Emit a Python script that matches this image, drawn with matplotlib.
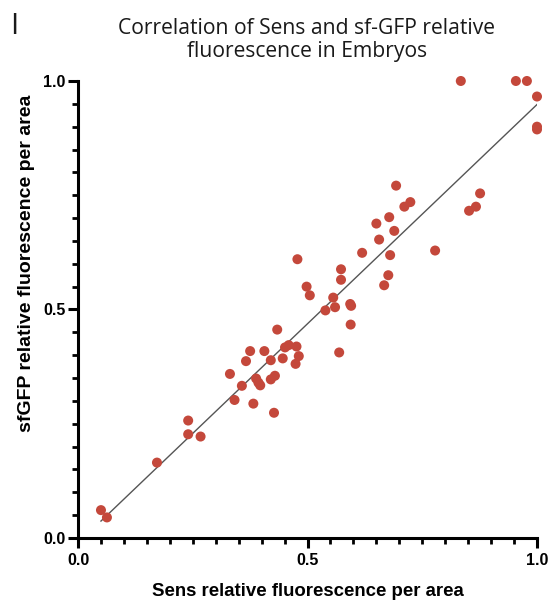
import matplotlib
matplotlib.use('Agg')
import matplotlib.pyplot as plt
from matplotlib.ticker import MultipleLocator
import numpy as np

# Sens (x) vs sfGFP (y) relative fluorescence
sens = [0.050, 0.063, 0.172, 0.240, 0.240, 0.267, 0.331, 0.341, 0.357, 0.366,
        0.375, 0.382, 0.388, 0.393, 0.397, 0.406, 0.420, 0.420, 0.429, 0.427,
        0.434, 0.446, 0.451, 0.459, 0.474, 0.476, 0.481, 0.478, 0.498, 0.505,
        0.539, 0.556, 0.560, 0.569, 0.573, 0.573, 0.593, 0.595, 0.594, 0.619,
        0.650, 0.656, 0.667, 0.676, 0.678, 0.680, 0.689, 0.693, 0.711, 0.724,
        0.778, 0.834, 0.852, 0.867, 0.876, 0.954, 0.978, 1.000, 1.000, 1.000]
sfgfp = [0.061, 0.045, 0.165, 0.257, 0.227, 0.222, 0.359, 0.302, 0.333, 0.387,
         0.409, 0.294, 0.349, 0.340, 0.334, 0.409, 0.389, 0.347, 0.355, 0.274,
         0.456, 0.393, 0.417, 0.422, 0.381, 0.419, 0.398, 0.610, 0.550, 0.531,
         0.498, 0.526, 0.505, 0.406, 0.588, 0.565, 0.512, 0.508, 0.467, 0.624,
         0.688, 0.653, 0.553, 0.575, 0.702, 0.619, 0.672, 0.771, 0.725, 0.735,
         0.629, 1.000, 0.716, 0.725, 0.754, 1.000, 1.000, 0.966, 0.900, 0.894]

title = 'Correlation of Sens and sf-GFP relative\nfluorescence in Embryos'
xlabel = 'Sens relative fluorescence per area'
ylabel = 'sfGFP relative fluorescence per area'

plt.rcParams['font.family'] = ['Liberation Sans', 'DejaVu Sans']

fig = plt.figure(figsize=(5.51, 6.03), dpi=100)
ax = fig.add_axes([0.1416, 0.1078, 0.8330, 0.7579])

x = np.array(sens)
y = np.array(sfgfp)
slope, intercept = np.polyfit(x, y, 1)
xf = np.array([x.min(), x.max()])
ax.plot(xf, slope * xf + intercept, color='#555555', linewidth=1.0, zorder=2)

ax.scatter(x, y, s=52, color='#C4483B', edgecolors='none', zorder=3, clip_on=False)

ax.set_xlim(0, 1)
ax.set_ylim(0, 1)
ax.xaxis.set_major_locator(MultipleLocator(0.5))
ax.yaxis.set_major_locator(MultipleLocator(0.5))
ax.xaxis.set_minor_locator(MultipleLocator(0.05))
ax.yaxis.set_minor_locator(MultipleLocator(0.05))
ax.xaxis.set_major_formatter(plt.FormatStrFormatter('%.1f'))
ax.yaxis.set_major_formatter(plt.FormatStrFormatter('%.1f'))

for side in ['top', 'right']:
    ax.spines[side].set_visible(False)
for side in ['left', 'bottom']:
    ax.spines[side].set_linewidth(2.2)

ax.tick_params(which='major', length=7.5, width=2.2, labelsize=11.5, pad=1.5)
ax.tick_params(axis='x', which='major', pad=3)
ax.tick_params(which='minor', length=4, width=2.0)
for lab in ax.get_xticklabels() + ax.get_yticklabels():
    lab.set_fontweight('bold')

ax.set_xlabel(xlabel, fontsize=13.4, fontweight='bold', labelpad=11)
ax.set_ylabel(ylabel, fontsize=14, fontweight='bold')
ax.yaxis.set_label_coords(-0.094, 0.6)

fig.text(0.557, 0.97, title, ha='center', va='top', fontsize=15.2,
         family=['Open Sans', 'DejaVu Sans'], linespacing=1.1, color='#1a1a1a')
fig.text(0.018, 0.98, 'I', ha='left', va='top', fontsize=21,
         family=['Open Sans', 'DejaVu Sans'], color='#1a1a1a')

fig.savefig('out.png', dpi=100)
